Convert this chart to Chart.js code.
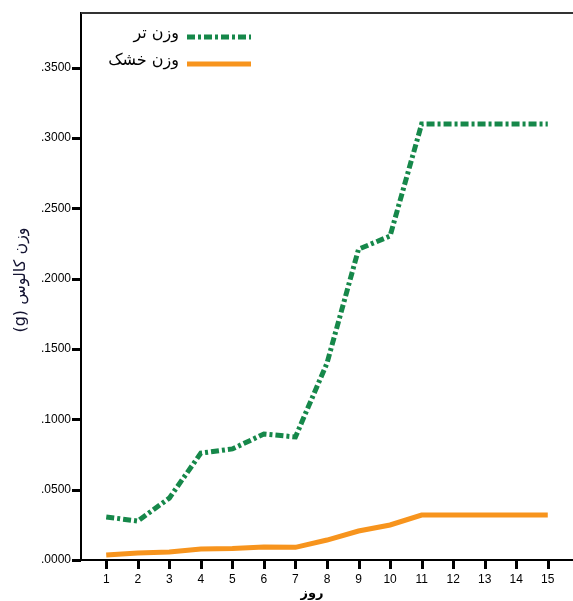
<!DOCTYPE html>
<html>
<head>
<meta charset="utf-8">
<script src="https://cdn.jsdelivr.net/npm/chart.js@4"></script>
<style>
  html, body { margin: 0; padding: 0; background: #fff; }
  #wrap { width: 573px; height: 601px; }
</style>
</head>
<body>
<div id="wrap"><canvas id="callusChart" width="573" height="601"></canvas></div>
<script>
// Data
const days = [1, 2, 3, 4, 5, 6, 7, 8, 9, 10, 11, 12, 13, 14, 15];
const freshWeight = [0.0306, 0.0277, 0.0440, 0.0760, 0.0790, 0.0896, 0.0875, 0.1400, 0.2210, 0.2304, 0.3100, 0.3100, 0.3100, 0.3100, 0.3100];
const dryWeight = [0.0036, 0.0050, 0.0057, 0.0078, 0.0082, 0.0092, 0.0090, 0.0142, 0.0206, 0.0249, 0.0320, 0.0320, 0.0320, 0.0320, 0.0320];
const seriesNames = ['وزن تر', 'وزن خشک'];
const yTicks = [0, 0.05, 0.1, 0.15, 0.2, 0.25, 0.3, 0.35];
const yTitle = 'وزن کالوس (g)';
const xTitle = 'روز';

const green = '#16884a';
const orange = '#f7941d';
const greenDash = [8, 3, 3, 3];

const toPoints = vals => vals.map((v, i) => ({ x: days[i], y: v }));

// frame, tick marks, titles and legend
const extras = {
    id: 'extras',
    afterDraw(chart) {
        const ctx = chart.ctx;
        const area = chart.chartArea;
        const xs = chart.scales.x;
        const ys = chart.scales.y;
        ctx.save();
        ctx.fillStyle = '#333';
        ctx.fillRect(area.left, area.top - 1, area.right - area.left, 2);

        // tick marks
        ctx.fillStyle = '#000';
        for (const v of yTicks) {
            const y = Math.round(ys.getPixelForValue(v));
            ctx.fillRect(area.left - 9, y - 1, 9, 3);
        }
        for (const d of days) {
            const x = Math.round(xs.getPixelForValue(d));
            ctx.fillRect(x - 1, area.bottom, 3, 9);
        }

        // axis titles (rtl)
        ctx.direction = 'rtl';
        ctx.textAlign = 'center';
        ctx.textBaseline = 'middle';
        ctx.fillStyle = '#141432';
        ctx.font = '16px "DejaVu Sans", sans-serif';
        ctx.save();
        ctx.translate(21, 280);
        ctx.rotate(-Math.PI / 2);
        ctx.fillText(yTitle, 0, 0);
        ctx.restore();
        ctx.fillStyle = '#000';
        ctx.font = 'bold 13px "DejaVu Sans", sans-serif';
        ctx.fillText(xTitle, 312, 594);

        // legend
        const rows = [
            { name: seriesNames[0], color: green, dash: greenDash, y: 37 },
            { name: seriesNames[1], color: orange, dash: [], y: 64 }
        ];
        ctx.font = '16px "DejaVu Sans", sans-serif';
        ctx.textAlign = 'right';
        rows.forEach(r => {
            ctx.fillStyle = '#000';
            ctx.fillText(r.name, 179, r.y - 3);
            ctx.strokeStyle = r.color;
            ctx.lineWidth = 5;
            ctx.setLineDash(r.dash);
            ctx.beginPath();
            ctx.moveTo(187, r.y);
            ctx.lineTo(251, r.y);
            ctx.stroke();
            ctx.setLineDash([]);
        });
        ctx.restore();
    }
};

new Chart(document.getElementById('callusChart'), {
    type: 'line',
    data: {
        datasets: [
            {
                label: seriesNames[0],
                data: toPoints(freshWeight),
                borderColor: green,
                borderWidth: 5,
                borderDash: greenDash,
                pointRadius: 0,
                tension: 0
            },
            {
                label: seriesNames[1],
                data: toPoints(dryWeight),
                borderColor: orange,
                borderWidth: 5,
                pointRadius: 0,
                tension: 0
            }
        ]
    },
    options: {
        responsive: false,
        animation: false,
        layout: { padding: { top: 13, right: 0, left: 0, bottom: 0 } },
        plugins: {
            legend: { display: false },
            tooltip: { enabled: false }
        },
        scales: {
            x: {
                type: 'linear',
                min: 0.2,
                max: 15.8,
                afterBuildTicks: s => { s.ticks = days.map(d => ({ value: d })); },
                afterFit: s => { s.height = 41; s.paddingLeft = 0; s.paddingRight = 0; },
                grid: { display: false, drawTicks: false },
                border: { color: '#000', width: 2 },
                ticks: {
                    color: '#000',
                    padding: 12,
                    font: { family: 'Liberation Sans, Arial', size: 12 }
                }
            },
            y: {
                min: 0,
                max: 0.389,
                afterBuildTicks: s => { s.ticks = yTicks.map(v => ({ value: v })); },
                afterFit: s => { s.width = 81; s.paddingTop = 0; s.paddingBottom = 0; },
                grid: { display: false, drawTicks: false },
                border: { color: '#000', width: 2 },
                ticks: {
                    color: '#000',
                    padding: 10,
                    font: { family: 'Liberation Sans, Arial', size: 12 },
                    callback: v => v.toFixed(4).replace(/^0/, '')
                }
            }
        }
    },
    plugins: [extras]
});
</script>
</body>
</html>
